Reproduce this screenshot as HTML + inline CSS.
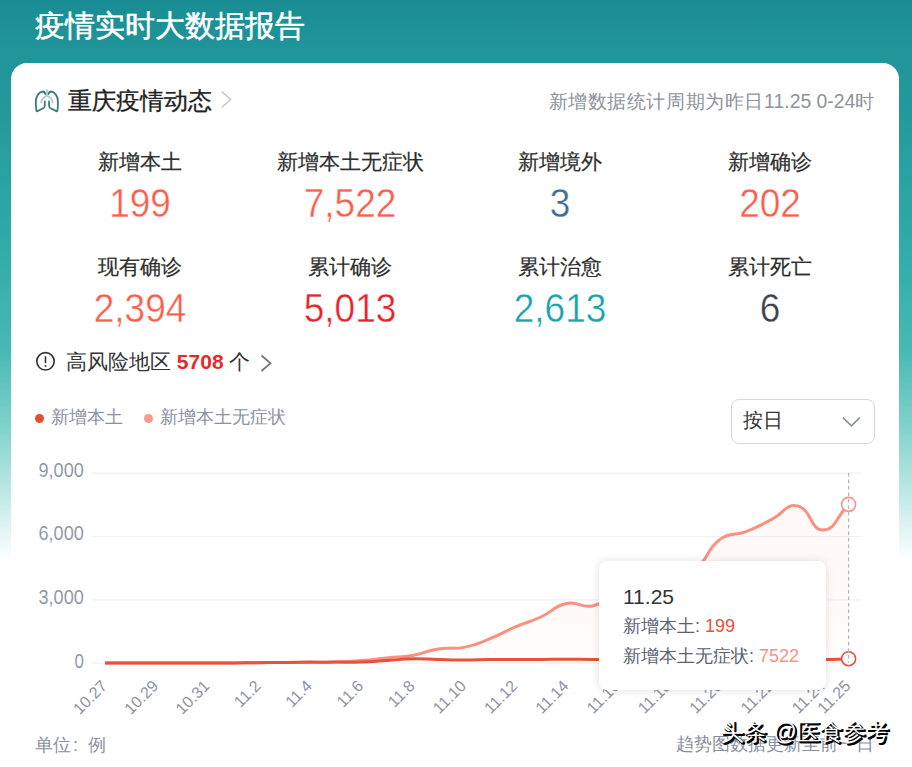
<!DOCTYPE html>
<html><head><meta charset="utf-8">
<style>
*{margin:0;padding:0;box-sizing:border-box;}
html,body{width:912px;height:767px;overflow:hidden;}
body{font-family:"Liberation Sans",sans-serif;position:relative;background:linear-gradient(180deg,#198d93 0px,#21969a 60px,#259a9d 120px,#30aca9 250px,#47b9b3 350px,#84d3cd 430px,#b3e4e0 480px,#e2f5f3 530px,#fbfefe 556px,#fff 562px);}
.abs{position:absolute;white-space:nowrap;}
.title{left:35px;top:6px;font-size:30px;color:#fff;-webkit-text-stroke:0.5px #fff;}
.card{position:absolute;left:11px;top:63px;width:888px;height:720px;background:#fff;border-radius:16px;}
.sec{left:68px;top:85px;font-size:24px;color:#222;-webkit-text-stroke:0.3px #222;}
.pc{font-size:19.4px;letter-spacing:0.6px;}
.period{right:37px;top:88px;font-size:19.4px;color:#8e939c;}
.stat{position:absolute;width:210px;text-align:center;}
.lab{font-size:21px;line-height:24px;color:#2f2f2f;-webkit-text-stroke:0.2px #2f2f2f;}
.num{font-size:40px;line-height:46px;transform:scaleX(0.925);-webkit-text-stroke:0.4px #fff;}
.risk{left:66px;top:348px;font-size:21px;color:#333;}
.risk b{color:#e42a2a;font-size:21px;}
.legend{top:405px;font-size:18px;color:#8c91a0;}
.dot{position:absolute;width:9.4px;height:9.4px;border-radius:50%;}
.dd{position:absolute;left:731px;top:399px;width:144px;height:45px;border:1px solid #d5d8e0;border-radius:8px;}
.ddt{left:742.5px;top:407px;font-size:20px;color:#333;}
.unit{left:35px;top:733px;font-size:18px;color:#8a90a0;}
.upd{left:676px;top:732px;font-size:18px;color:#8a90a0;}
.tip{position:absolute;left:599px;top:561px;width:227px;height:129px;background:#fff;border-radius:8px;box-shadow:0 0 10px rgba(0,0,0,0.12);}
.tt1{left:623px;top:584.5px;font-size:21px;color:#333;}
.tt2{left:623px;top:614px;font-size:18px;color:#5b6170;}
.tt3{left:623px;top:644px;font-size:18px;color:#5b6170;}
.wm{left:721px;top:717px;font-size:23px;color:#fff;text-shadow:1px 1px 0 #000,2px 2px 0 #000,2px 1px 0 #000,1px 2px 0 #000;}
</style></head><body>
<div class="abs title">疫情实时大数据报告</div>
<div class="card"></div>
<svg class="abs" style="left:30px;top:84px" width="34" height="32" viewBox="0 0 34 32">
<path d="M16.9 5.2 V11.3 L12.8 14.4 C11.8 15.3 11.3 16.5 11.3 19.2 M16.9 11.3 L21 14.4 C22 15.3 22.5 16.5 22.5 19.2" stroke="#a3c9c8" stroke-width="1.6" fill="none" stroke-linejoin="round"/>
<path d="M15.2 10 C14.8 8.2 14 7.5 13 7.5 C9 7.8 5.8 12 5.8 18 C5.8 21 6 24 6.3 26.5 C6.4 27.2 6.9 27.4 7.5 27.1 L13.6 24 C14.4 23.5 14.7 22.8 14.7 22 L14.8 17.3" stroke="#3f7c7c" stroke-width="1.8" fill="none" stroke-linecap="round" stroke-linejoin="round"/>
<path d="M18.6 10 C19 8.2 19.8 7.5 20.8 7.5 C24.8 7.8 28 12 28 18 C28 21 27.8 24 27.5 26.5 C27.4 27.2 26.9 27.4 26.3 27.1 L20.2 24 C19.4 23.5 19.1 22.8 19.1 22 L19 17.3" stroke="#3f7c7c" stroke-width="1.8" fill="none" stroke-linecap="round" stroke-linejoin="round"/>
</svg>
<div class="abs sec">重庆疫情动态</div>
<svg class="abs" style="left:0;top:0" width="912" height="767">
<path d="M221.8 91.6 L230.7 99.5 L221.8 107.4" stroke="#c8c8c8" stroke-width="1.6" fill="none"/>
<circle cx="45.5" cy="361.3" r="8.7" stroke="#333" stroke-width="1.6" fill="none"/>
<path d="M45.5 356.2 V363.2" stroke="#333" stroke-width="1.6"/>
<circle cx="45.5" cy="366" r="1" fill="#333"/>
<path d="M261.5 355.5 L270.5 363.3 L261.5 371" stroke="#777" stroke-width="1.8" fill="none"/>
<path d="M843 417.6 L851.4 425.8 L859.8 417.6" stroke="#8a8fa0" stroke-width="1.6" fill="none"/>
</svg>
<div class="abs period"><span class="pc">新增数据统计周期为昨日</span>11.25 0-24<span class="pc">时</span></div>

<div class="stat lab" style="left:35px;top:150.3px">新增本土</div><div class="stat num" style="left:35px;top:180.0px;color:#fa5f4e">199</div>
<div class="stat lab" style="left:245px;top:150.3px">新增本土无症状</div><div class="stat num" style="left:245px;top:180.0px;color:#fa5f4e">7,522</div>
<div class="stat lab" style="left:455px;top:150.3px">新增境外</div><div class="stat num" style="left:455px;top:180.0px;color:#3f6a9c">3</div>
<div class="stat lab" style="left:665px;top:150.3px">新增确诊</div><div class="stat num" style="left:665px;top:180.0px;color:#fa5f4e">202</div>
<div class="stat lab" style="left:35px;top:254.8px">现有确诊</div><div class="stat num" style="left:35px;top:285.2px;color:#fa5f4e">2,394</div>
<div class="stat lab" style="left:245px;top:254.8px">累计确诊</div><div class="stat num" style="left:245px;top:285.2px;color:#e5252d">5,013</div>
<div class="stat lab" style="left:455px;top:254.8px">累计治愈</div><div class="stat num" style="left:455px;top:285.2px;color:#1aa3a8">2,613</div>
<div class="stat lab" style="left:665px;top:254.8px">累计死亡</div><div class="stat num" style="left:665px;top:285.2px;color:#3d414a">6</div>

<div class="abs risk">高风险地区 <b>5708</b> 个</div>

<div class="dot" style="left:34.7px;top:413.8px;background:#e84b32"></div>
<div class="abs legend" style="left:51px">新增本土</div>
<div class="dot" style="left:143.9px;top:413.9px;background:#f99a8c"></div>
<div class="abs legend" style="left:160px">新增本土无症状</div>

<div class="dd"></div>
<div class="abs ddt">按日</div>

<svg class="abs" style="left:0;top:0" width="912" height="767">
<defs><linearGradient id="ag" x1="0" y1="0" x2="0" y2="1"><stop offset="0" stop-color="#f99a8c" stop-opacity="0.07"/><stop offset="1" stop-color="#f99a8c" stop-opacity="0.02"/></linearGradient></defs>
<g stroke="#f0f1f4" stroke-width="1.2">
<line x1="92" y1="473.2" x2="861" y2="473.2"/>
<line x1="92" y1="536.5" x2="861" y2="536.5"/>
<line x1="92" y1="599.8" x2="861" y2="599.8"/>
<line x1="92" y1="663.2" x2="861" y2="663.2"/>
</g>
<g font-family="Liberation Sans" font-size="20" fill="#8c92a4" stroke="#fff" stroke-width="0.12">
<text x="38.5" y="477" textLength="45.3" lengthAdjust="spacingAndGlyphs">9,000</text>
<text x="38.5" y="540.3" textLength="45.3" lengthAdjust="spacingAndGlyphs">6,000</text>
<text x="38.5" y="603.8" textLength="45.3" lengthAdjust="spacingAndGlyphs">3,000</text>
<text x="74.5" y="667.6" textLength="9.4" lengthAdjust="spacingAndGlyphs">0</text>
</g>
<g font-family="Liberation Sans" font-size="16" fill="#8d92a2"><text x="108.0" y="687.0" transform="rotate(-45 108.0 687.0)" text-anchor="end">10.27</text><text x="159.3" y="687.0" transform="rotate(-45 159.3 687.0)" text-anchor="end">10.29</text><text x="210.6" y="687.0" transform="rotate(-45 210.6 687.0)" text-anchor="end">10.31</text><text x="261.8" y="687.0" transform="rotate(-45 261.8 687.0)" text-anchor="end">11.2</text><text x="313.1" y="687.0" transform="rotate(-45 313.1 687.0)" text-anchor="end">11.4</text><text x="364.4" y="687.0" transform="rotate(-45 364.4 687.0)" text-anchor="end">11.6</text><text x="415.7" y="687.0" transform="rotate(-45 415.7 687.0)" text-anchor="end">11.8</text><text x="467.0" y="687.0" transform="rotate(-45 467.0 687.0)" text-anchor="end">11.10</text><text x="518.3" y="687.0" transform="rotate(-45 518.3 687.0)" text-anchor="end">11.12</text><text x="569.5" y="687.0" transform="rotate(-45 569.5 687.0)" text-anchor="end">11.14</text><text x="620.8" y="687.0" transform="rotate(-45 620.8 687.0)" text-anchor="end">11.16</text><text x="672.1" y="687.0" transform="rotate(-45 672.1 687.0)" text-anchor="end">11.18</text><text x="723.4" y="687.0" transform="rotate(-45 723.4 687.0)" text-anchor="end">11.20</text><text x="774.7" y="687.0" transform="rotate(-45 774.7 687.0)" text-anchor="end">11.22</text><text x="826.0" y="687.0" transform="rotate(-45 826.0 687.0)" text-anchor="end">11.24</text><text x="851.6" y="687.0" transform="rotate(-45 851.6 687.0)" text-anchor="end">11.25</text></g>
<path d="M105.0 663.0 C117.8 663.0 117.8 663.0 130.6 663.0 C143.5 663.0 143.5 662.9 156.3 662.9 C169.1 662.9 169.1 663.0 181.9 663.0 C194.7 663.0 194.7 663.0 207.6 663.0 C220.4 663.0 220.4 662.9 233.2 662.9 C246.0 662.8 246.0 662.9 258.8 662.8 C271.7 662.6 271.7 662.5 284.5 662.4 C297.3 662.3 297.3 662.5 310.1 662.4 C323.0 662.2 323.0 662.4 335.8 661.9 C348.6 661.5 348.6 661.6 361.4 660.6 C374.3 659.6 374.2 659.2 387.1 657.9 C399.9 656.6 400.0 657.6 412.7 655.4 C425.7 653.1 425.3 650.9 438.3 648.9 C451.0 646.9 451.5 649.8 464.0 647.4 C477.1 644.8 477.1 643.9 489.6 638.9 C502.7 633.7 502.3 632.5 515.3 626.9 C527.9 621.5 528.4 622.7 540.9 617.0 C554.1 611.0 553.0 606.4 566.5 603.5 C578.6 600.9 580.0 608.3 592.2 606.0 C605.7 603.4 604.7 599.1 617.8 593.5 C630.4 588.2 630.6 588.5 643.5 584.0 C656.2 579.6 656.1 579.3 669.1 575.6 C681.8 571.9 684.5 576.6 694.8 569.3 C710.1 558.3 705.1 550.3 720.4 539.1 C730.7 531.5 733.6 536.4 746.0 531.7 C759.3 526.6 759.0 525.8 771.7 519.4 C784.6 512.9 785.7 503.5 797.3 505.9 C811.4 508.8 810.3 530.4 823.0 530.0 C836.0 529.6 835.8 517.2 848.6 504.4 L848.6 663.2 L105.0 663.2 Z" fill="url(#ag)"/>
<path d="M105.0 663.0 C117.8 663.0 117.8 663.0 130.6 663.0 C143.5 663.0 143.5 662.9 156.3 662.9 C169.1 662.9 169.1 663.0 181.9 663.0 C194.7 663.0 194.7 663.0 207.6 663.0 C220.4 663.0 220.4 662.9 233.2 662.9 C246.0 662.8 246.0 662.9 258.8 662.8 C271.7 662.6 271.7 662.5 284.5 662.4 C297.3 662.3 297.3 662.5 310.1 662.4 C323.0 662.2 323.0 662.4 335.8 661.9 C348.6 661.5 348.6 661.6 361.4 660.6 C374.3 659.6 374.2 659.2 387.1 657.9 C399.9 656.6 400.0 657.6 412.7 655.4 C425.7 653.1 425.3 650.9 438.3 648.9 C451.0 646.9 451.5 649.8 464.0 647.4 C477.1 644.8 477.1 643.9 489.6 638.9 C502.7 633.7 502.3 632.5 515.3 626.9 C527.9 621.5 528.4 622.7 540.9 617.0 C554.1 611.0 553.0 606.4 566.5 603.5 C578.6 600.9 580.0 608.3 592.2 606.0 C605.7 603.4 604.7 599.1 617.8 593.5 C630.4 588.2 630.6 588.5 643.5 584.0 C656.2 579.6 656.1 579.3 669.1 575.6 C681.8 571.9 684.5 576.6 694.8 569.3 C710.1 558.3 705.1 550.3 720.4 539.1 C730.7 531.5 733.6 536.4 746.0 531.7 C759.3 526.6 759.0 525.8 771.7 519.4 C784.6 512.9 785.7 503.5 797.3 505.9 C811.4 508.8 810.3 530.4 823.0 530.0 C836.0 529.6 835.8 517.2 848.6 504.4" stroke="#fa9082" stroke-width="3" fill="none"/>
<path d="M105.0 663.0 C117.8 663.0 117.8 663.0 130.6 663.0 C143.5 663.0 143.5 663.0 156.3 663.0 C169.1 663.0 169.1 663.0 181.9 663.0 C194.7 663.0 194.7 663.0 207.6 663.0 C220.4 663.0 220.4 662.9 233.2 662.9 C246.0 662.8 246.0 662.9 258.8 662.8 C271.7 662.6 271.7 662.5 284.5 662.4 C297.3 662.2 297.3 662.2 310.1 662.1 C323.0 662.1 323.0 662.2 335.8 662.1 C348.6 662.1 348.6 662.4 361.4 661.9 C374.2 661.5 374.2 661.2 387.1 660.5 C399.9 659.7 399.9 659.0 412.7 658.8 C425.5 658.6 425.5 659.3 438.3 659.6 C451.2 659.9 451.2 660.1 464.0 660.0 C476.8 660.0 476.8 659.7 489.6 659.5 C502.4 659.3 502.4 659.4 515.3 659.4 C528.1 659.4 528.1 659.4 540.9 659.4 C553.7 659.4 553.7 659.3 566.5 659.3 C579.4 659.3 579.4 659.3 592.2 659.4 C605.0 659.5 605.0 659.5 617.8 659.5 C630.6 659.5 630.6 659.5 643.5 659.4 C656.3 659.3 656.3 659.3 669.1 659.3 C681.9 659.2 681.9 659.3 694.8 659.2 C707.6 659.1 707.6 659.0 720.4 659.0 C733.2 659.0 733.2 659.1 746.0 659.2 C758.9 659.3 758.9 659.3 771.7 659.3 C784.5 659.3 784.5 659.2 797.3 659.2 C810.1 659.2 810.1 659.4 823.0 659.4 C835.8 659.4 835.8 659.2 848.6 659.0" stroke="#e8513a" stroke-width="3" fill="none"/>
<circle cx="848.6" cy="504.4" r="7" fill="#fff" stroke="#fa9082" stroke-width="1.6"/>
<circle cx="848.6" cy="658.7" r="7" fill="#fff" stroke="#e8513a" stroke-width="1.6"/>
<line x1="848.6" y1="473" x2="848.6" y2="663" stroke="#b0b4bf" stroke-width="1.2" stroke-dasharray="3.5 3"/>
</svg>

<div class="tip"></div>
<div class="abs tt1">11.25</div>
<div class="abs tt2">新增本土: <span style="color:#e8513a">199</span></div>
<div class="abs tt3">新增本土无症状: <span style="color:#f99384">7522</span></div>

<div class="abs unit">单位<span style="margin-left:2px">:</span><span style="margin-left:10px">例</span></div>
<div class="abs upd">趋势图数据更新至前一日</div>
<div class="abs wm">头条 @医食参考</div>
</body></html>
